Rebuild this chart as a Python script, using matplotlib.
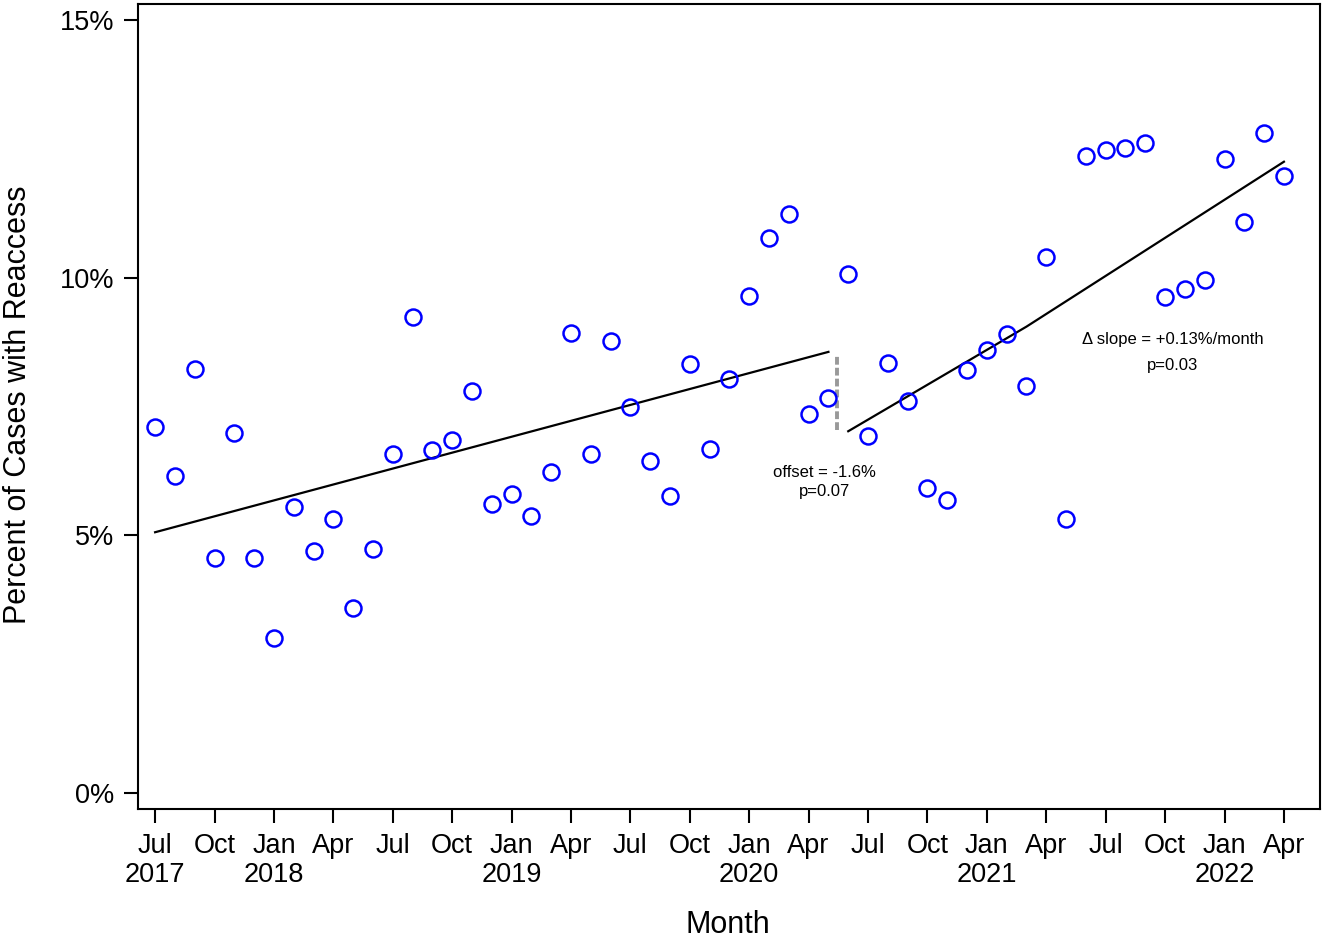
import matplotlib
matplotlib.use('Agg')
import matplotlib.pyplot as plt
import numpy as np

plt.rcParams['font.family'] = ['Liberation Sans', 'DejaVu Sans']

# monthly values, Jul 2017 .. Apr 2022
months = list(range(58))
pct = [7.10, 6.15, 8.23, 4.56, 6.99, 4.56, 3.01, 5.55, 4.70, 5.32, 3.59, 4.74,
       6.58, 9.24, 6.66, 6.85, 7.80, 5.61, 5.80, 5.38, 6.23, 8.93, 6.58, 8.77,
       7.49, 6.44, 5.76, 8.33, 6.68, 8.03, 9.65, 10.77, 11.24, 7.36, 7.67, 10.07,
       6.93, 8.34, 7.61, 5.92, 5.69, 8.21, 8.60, 8.91, 7.90, 10.40, 5.32, 12.36,
       12.48, 12.52, 12.61, 9.63, 9.78, 9.96, 12.30, 11.08, 12.81, 11.97]

# fitted segments (pre / post)
pre_x = [0, 34]
pre_y = [5.06, 8.56]
post_x = [35, 44, 57]
post_y = [7.02, 9.05, 12.25]
break_x = 34.45
break_y = [7.04, 8.50]

tick_pos = list(range(0, 58, 3))
tick_lab = ['Jul\n2017', 'Oct', 'Jan\n2018', 'Apr', 'Jul', 'Oct', 'Jan\n2019', 'Apr',
            'Jul', 'Oct', 'Jan\n2020', 'Apr', 'Jul', 'Oct', 'Jan\n2021', 'Apr',
            'Jul', 'Oct', 'Jan\n2022', 'Apr']

fig = plt.figure(figsize=(13.25, 9.4), dpi=100)
ax = fig.add_axes([0.1042, 0.1394, 0.8920, 0.8563])

ax.plot(months, pct, 'o', mfc='none', mec='#0000ff', ms=11.5, mew=1.8, zorder=3)
ax.plot(pre_x, pre_y, color='black', lw=1.6)
ax.plot(post_x, post_y, color='black', lw=1.6)
ax.plot([break_x, break_x], break_y, color='#999999', lw=2.8, ls=(0, (2, 0.8)))

ax.text(33.8, 6.03, 'offset = -1.6%\np=0.07', ha='center', va='center', fontsize=12,
        linespacing=1.3)
ax.text(51.4, 8.80, '\u0394 slope = +0.13%/month', ha='center', va='center', fontsize=12)
ax.text(51.4, 8.30, 'p=0.03', ha='center', va='center', fontsize=12)

ax.set_xlim(-0.86, 58.82)
ax.set_ylim(-0.31, 15.31)
ax.set_xticks(tick_pos)
ax.set_xticklabels(tick_lab, fontsize=19.5, linespacing=1.15, va='top')
ax.set_yticks([0, 5, 10, 15])
ax.set_yticklabels(['0%', '5%', '10%', '15%'], fontsize=19.5)
ax.tick_params(axis='both', length=10, width=1.5, direction='out', pad=7)
for s in ax.spines.values():
    s.set_linewidth(1.5)

ax.set_xlabel('Month', fontsize=22, va='center')
ax.xaxis.set_label_coords(0.499, -0.144)
ax.set_ylabel('Percent of Cases with Reaccess', fontsize=22, va='center')
ax.yaxis.set_label_coords(-0.102, 0.502)

fig.savefig('out.png', dpi=100)
